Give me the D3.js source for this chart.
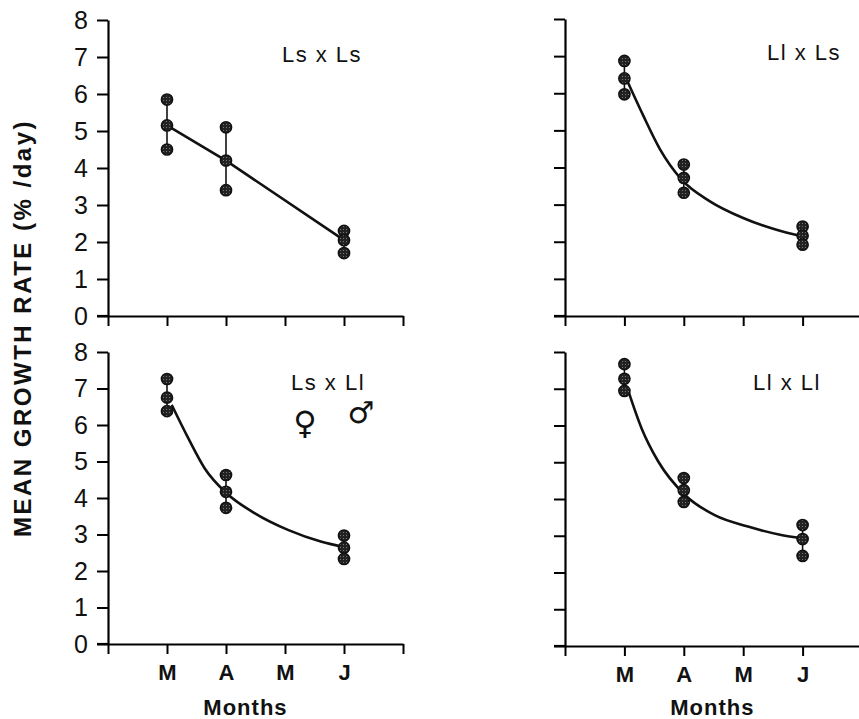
<!DOCTYPE html>
<html>
<head>
<meta charset="utf-8">
<script src="https://cdn.jsdelivr.net/npm/d3@7"></script>
<style>
  body { margin: 0; background: #fff; }
  svg { display: block; font-family: "Liberation Sans", Arial, sans-serif; }
</style>
</head>
<body>
<div id="chart"></div>
<script>
var w = 859;
var h = 719;

// month ticks on the x axis (position 1..4 of a 0..5 axis)
var monthLabels = ["M", "A", "M", "J"];
var monthTicks = [1, 2, 3, 4];
var yTicks = [0, 1, 2, 3, 4, 5, 6, 7, 8];

var crosses = ["Ls x Ls", "Ll x Ls", "Ls x Ll", "Ll x Ll"];

// sampled months (M, A, J) and the three replicate values for each
var sampleMonths = [1, 2, 4];
var lsLsValues = [[5.85, 5.15, 4.5], [5.1, 4.2, 3.4], [2.3, 2.05, 1.7]];
var llLsValues = [[6.87, 6.4, 5.97], [4.08, 3.72, 3.32], [2.41, 2.16, 1.92]];
var lsLlValues = [[7.26, 6.75, 6.38], [4.63, 4.17, 3.73], [2.97, 2.64, 2.33]];
var llLlValues = [[7.67, 7.27, 6.94], [4.57, 4.24, 3.92], [3.29, 2.91, 2.45]];

// fitted lines
var lsLsFitX = [1, 2, 4];
var lsLsFitY = [5.15, 4.2, 2.05];
var llLsFitX = [1.06, 1.32, 1.6, 1.96, 2.44, 3.0, 3.56, 3.95];
var llLsFitY = [6.29, 5.39, 4.49, 3.68, 3.09, 2.64, 2.32, 2.16];
var lsLlFitX = [1.08, 1.36, 1.64, 2.01, 2.49, 3.06, 3.62, 3.96];
var lsLlFitY = [6.55, 5.64, 4.81, 4.13, 3.58, 3.12, 2.8, 2.67];
var llLlFitX = [1.06, 1.29, 1.57, 2.02, 2.52, 3.08, 3.64, 3.98];
var llLlFitY = [6.97, 5.92, 5.02, 4.11, 3.56, 3.25, 3.02, 2.93];

var panels = [
  { name: crosses[0], vals: lsLsValues, fx: lsLsFitX, fy: lsLsFitY, curved: false,
    left: 108, right: 403, top: 20, bottom: 316, labels: true, months: false, lx: 322, ly: 62 },
  { name: crosses[1], vals: llLsValues, fx: llLsFitX, fy: llLsFitY, curved: true,
    left: 565, right: 862, top: 19, bottom: 316, labels: false, months: false, lx: 804, ly: 60 },
  { name: crosses[2], vals: lsLlValues, fx: lsLlFitX, fy: lsLlFitY, curved: true,
    left: 108, right: 403, top: 352, bottom: 644, labels: true, months: true, lx: 328, ly: 390, sex: true },
  { name: crosses[3], vals: llLlValues, fx: llLlFitX, fy: llLlFitY, curved: true,
    left: 565, right: 862, top: 352, bottom: 646, labels: false, months: true, lx: 787, ly: 390 }
];

var svg = d3.select("#chart")
  .append("svg")
  .attr("width", w)
  .attr("height", h);

// stippled dot fill
var pat = svg.append("defs").append("pattern")
  .attr("id", "stipple")
  .attr("width", 3).attr("height", 3)
  .attr("patternUnits", "userSpaceOnUse");
pat.append("rect").attr("width", 3).attr("height", 3).attr("fill", "#222");
pat.append("rect").attr("x", 1).attr("y", 1).attr("width", 1).attr("height", 1).attr("fill", "#777");

panels.forEach(function(p) {
  var x = d3.scaleLinear().domain([0, 5]).range([p.left, p.right]);
  var y = d3.scaleLinear().domain([0, 8]).range([p.bottom, p.top]);

  var g = svg.append("g");

  // y axis
  var yAxis = d3.axisLeft(y).tickValues(yTicks).tickSize(11).tickSizeOuter(0)
    .tickFormat(p.labels ? d3.format("d") : "");
  var ya = g.append("g")
    .attr("transform", "translate(" + p.left + ",0)")
    .call(yAxis);
  ya.select(".domain").attr("stroke", "#000").attr("stroke-width", 2.2);
  ya.selectAll(".tick line").attr("stroke", "#000").attr("stroke-width", 2);
  if (p.labels) {
    ya.selectAll(".tick text")
      .attr("x", -20)
      .attr("fill", "#111")
      .style("font-size", "25px");
  } else {
    ya.selectAll(".tick text").remove();
  }

  // x axis
  var xAxis = d3.axisBottom(x).tickValues([0, 1, 2, 3, 4, 5]).tickSize(10).tickSizeOuter(0)
    .tickFormat(function(d) {
      var i = monthTicks.indexOf(d);
      return i < 0 ? "" : monthLabels[i];
    });
  var xa = g.append("g")
    .attr("transform", "translate(0," + p.bottom + ")")
    .call(xAxis);
  xa.select(".domain").attr("stroke", "#000").attr("stroke-width", 2.2);
  xa.selectAll(".tick line").attr("stroke", "#000").attr("stroke-width", 2);
  if (p.months) {
    xa.selectAll(".tick text")
      .filter(function(d) { return monthTicks.indexOf(d) < 0; })
      .remove();
    xa.selectAll(".tick text")
      .attr("y", 20)
      .attr("fill", "#111")
      .style("font-size", "22px")
      .style("font-weight", "bold");
  } else {
    xa.selectAll(".tick text").remove();
  }

  // axis line reaches the 0 tick on the left
  g.append("line")
    .attr("x1", p.left - 11).attr("x2", p.left)
    .attr("y1", p.bottom).attr("y2", p.bottom)
    .attr("stroke", "#000").attr("stroke-width", 2.2);

  if (p.months) {
    g.append("text")
      .attr("x", p.labels ? x(2.33) : x(2.48))
      .attr("y", 715)
      .attr("text-anchor", "middle")
      .attr("fill", "#111")
      .style("font-size", "22px")
      .style("font-weight", "bold")
      .style("letter-spacing", "1px")
      .text("Months");
  }

  // fitted line
  var pts = p.fx.map(function(d, i) { return [d, p.fy[i]]; });
  var line = d3.line()
    .x(function(d) { return x(d[0]); })
    .y(function(d) { return y(d[1]); })
    .curve(p.curved ? d3.curveMonotoneX : d3.curveLinear);
  g.append("path")
    .attr("d", line(pts))
    .attr("fill", "none")
    .attr("stroke", "#111")
    .attr("stroke-width", 2.6);

  // replicate range + dots
  sampleMonths.forEach(function(m, i) {
    var v = p.vals[i];
    g.append("line")
      .attr("x1", x(m)).attr("x2", x(m))
      .attr("y1", y(d3.max(v))).attr("y2", y(d3.min(v)))
      .attr("stroke", "#111").attr("stroke-width", 1.6);
    g.selectAll(null)
      .data(v)
      .enter().append("circle")
      .attr("cx", x(m))
      .attr("cy", function(d) { return y(d); })
      .attr("r", 5.6)
      .attr("fill", "url(#stipple)")
      .attr("stroke", "#111")
      .attr("stroke-width", 1.5);
  });

  // cross label
  g.append("text")
    .attr("x", p.lx)
    .attr("y", p.ly)
    .attr("text-anchor", "middle")
    .attr("fill", "#111")
    .style("font-size", "22px")
    .style("letter-spacing", "1.5px")
    .text(p.name);

  if (p.sex) {
    g.append("text")
      .attr("x", 305).attr("y", 434)
      .attr("text-anchor", "middle")
      .attr("fill", "#111")
      .style("font-family", "DejaVu Sans")
      .style("font-size", "32px")
      .text("\u2640");
    g.append("text")
      .attr("x", 361).attr("y", 423)
      .attr("text-anchor", "middle")
      .attr("fill", "#111")
      .style("font-family", "DejaVu Sans")
      .style("font-size", "30px")
      .text("\u2642");
  }
});

// shared y title
svg.append("text")
  .attr("transform", "translate(31,328) rotate(-90)")
  .attr("text-anchor", "middle")
  .attr("fill", "#111")
  .style("font-size", "24px")
  .style("font-weight", "bold")
  .style("letter-spacing", "2.5px")
  .text("MEAN GROWTH RATE (% /day)");
</script>
</body>
</html>
